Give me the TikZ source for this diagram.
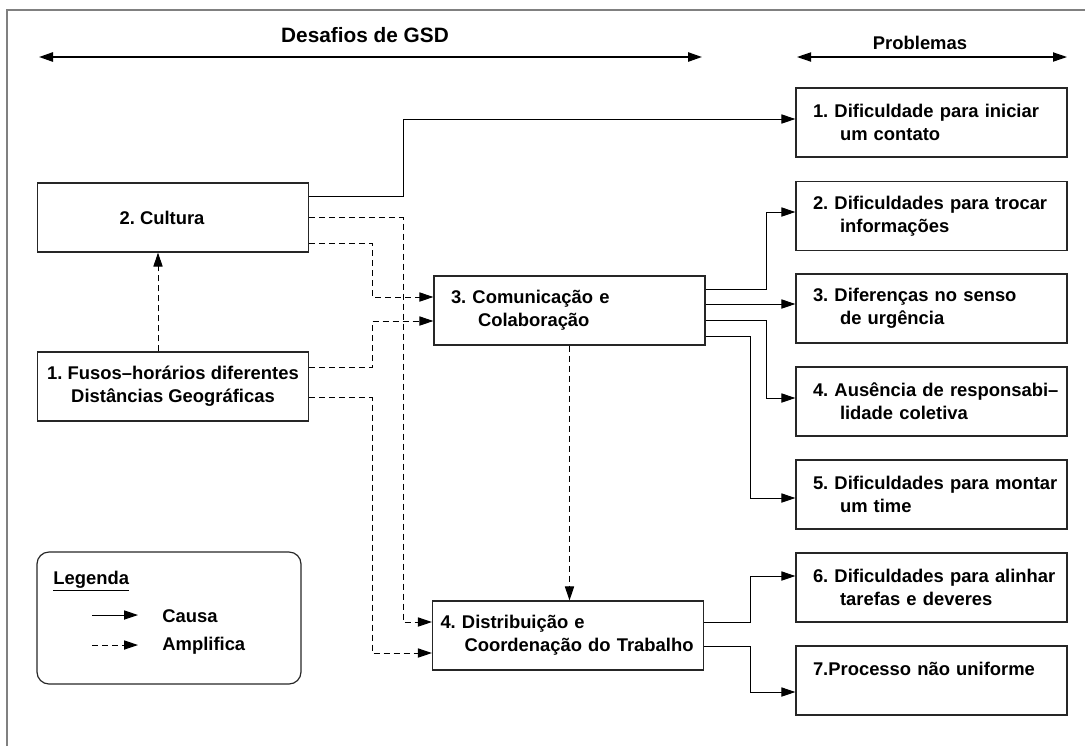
\documentclass[tikz,border=0pt]{standalone}
\usepackage{fontspec}
\setmainfont{Liberation Sans}
\usetikzlibrary{arrows.meta}
\frenchspacing

\begin{document}
\begin{tikzpicture}[x=0.5pt,y=-0.5pt,>={Triangle[length=7pt,width=4.6pt]},
	every node/.style={font=\fontsize{9.2}{11.5}\selectfont\bfseries},
	caixa/.style={draw=black!85,line width=0.6pt,minimum width=135.5pt,minimum height=34.5pt},
	desafio/.style={caixa,align=center},
	problema/.style={caixa,align=left,text width=118.5pt,inner xsep=8.5pt},
	causa/.style={->,line width=0.5pt},
	amplifica/.style={->,line width=0.5pt,dash pattern=on 3pt off 2pt}]

\def\linha#1#2{\mbox{#1}\\\hspace*{13.5pt}\mbox{#2}}

\useasboundingbox (0,0) rectangle (1085,746);

% moldura
\draw[line width=1pt,color=gray] (7,746)--(7,10)--(1085,10);

% cabecalhos
\node (tit) at (365,35) {\fontsize{10.4}{12}\selectfont Desafios de GSD};
\coordinate (dA) at (39,57);
\coordinate (dB) at (702,57);
\draw[<->,line width=1pt] (dA)--(dB);

\node (prob) at (920,43) {Problemas};
\coordinate (pA) at (797,57);
\coordinate (pB) at (1067,57);
\draw[<->,line width=0.6pt] (pA)--(pB);

% desafios
\node[desafio] (cult) at (173,217.5) {2. Cultura\hspace*{11pt}};
\node[desafio] (fuso) at (173,386.5) {1. Fusos–horários diferentes\\Distâncias Geográficas};
\node[problema] (com) at (569.5,310.5) {\linha{3. Comunicação e}{Colaboração}};
\node[problema,inner xsep=4pt,text width=127.5pt] (dist) at (568,635.5) {\mbox{4. Distribuição e}\\\hspace*{12pt}\mbox{Coordenação do Trabalho}};

% problemas
\node[problema] (p1) at (931.5,122.5) {\linha{1. Dificuldade para iniciar}{um contato}};
\node[problema] (p2) at (931.5,216) {\linha{2. Dificuldades para trocar}{informações}};
\node[problema] (p3) at (931.5,308.5) {\linha{3. Diferenças no senso}{de urgência}};
\node[problema] (p4) at (931.5,401.5) {\linha{4. Ausência de responsabi–}{lidade coletiva}};
\node[problema] (p5) at (931.5,494.5) {\linha{5. Dificuldades para montar}{um time}};
\node[problema] (p6) at (931.5,587.5) {\linha{6. Dificuldades para alinhar}{tarefas e deveres}};
\node[problema] (p7) at (931.5,680.5) {\linha{7.Processo não uniforme}{}};

% causa
\draw[causa] ([yshift=10.75pt]cult.east) -- ++(94,0) |- ([yshift=1.75pt]p1.west);
\draw[causa] ([yshift=10.75pt]com.east) -- ++(61,0) |- ([yshift=2pt]p2.west);
\draw[causa] ([yshift=3.25pt]com.east) -- ([yshift=3.25pt]com.east -| p3.west);
\draw[causa] ([yshift=-4.75pt]com.east) -- ++(61,0) |- ([yshift=1.75pt]p4.west);
\draw[causa] ([yshift=-12.75pt]com.east) -- ++(45,0) |- ([yshift=-1.75pt]p5.west);
\draw[causa] ([yshift=6.75pt]dist.east) -- ++(46,0) |- ([yshift=5.75pt]p6.west);
\draw[causa] ([yshift=-5.25pt]dist.east) -- ++(46,0) |- ([yshift=-5.75pt]p7.west);

% amplifica
\draw[amplifica] ([xshift=-7.5pt]fuso.north) -- ([xshift=-7.5pt]cult.south);
\draw[amplifica] (cult.east) -- ++(94,0) |- ([yshift=6.75pt]dist.west);
\draw[amplifica] ([yshift=-12.75pt]cult.east) -- ++(63,0) |- ([yshift=6.75pt]com.west);
\draw[amplifica] ([yshift=9.5pt]fuso.east) -- ++(63,0) |- ([yshift=-5.25pt]com.west);
\draw[amplifica] ([yshift=-5.5pt]fuso.east) -- ++(63,0) |- ([yshift=-8.75pt]dist.west);
\draw[amplifica] (com.south) -- (com.south |- dist.north);

% legenda
\node[draw=black!85,line width=0.6pt,rounded corners=6pt,minimum width=132pt,minimum height=66pt] (leg) at (169,618) {};
\node[anchor=base west,inner sep=0pt] (legt) at (53,584) {\underline{Legenda}};
\coordinate (c1) at (92,615);
\coordinate (c2) at (138,615);
\draw[causa] (c1)--(c2);
\node[anchor=west,inner sep=0pt] (lcausa) at (162,616) {Causa};
\coordinate (a1) at (92,645);
\coordinate (a2) at (138,645);
\draw[amplifica] (a1)--(a2);
\node[anchor=west,inner sep=0pt] (lampl) at (162,646) {Amplifica};

\end{tikzpicture}
\end{document}
